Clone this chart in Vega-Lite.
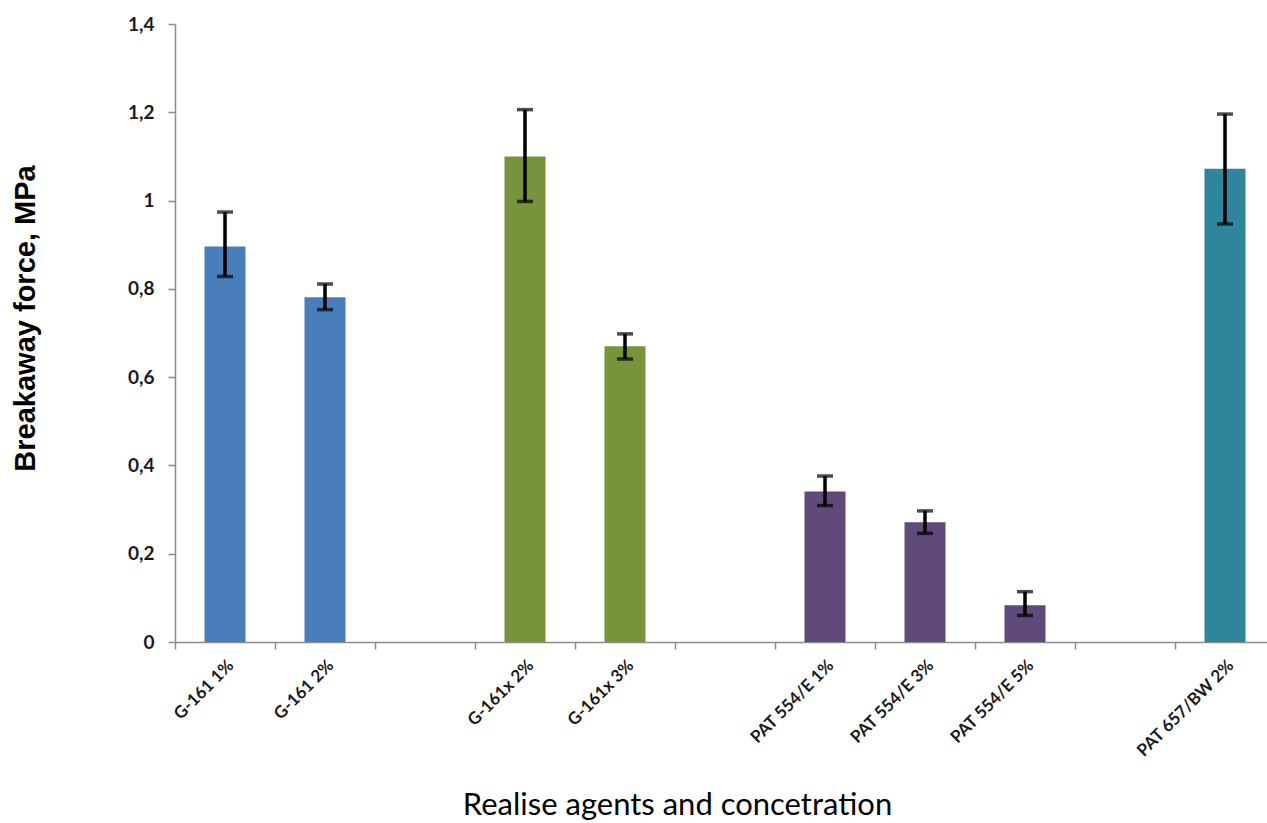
{
  "$schema": "https://vega.github.io/schema/vega-lite/v6.json",
  "width": 1092,
  "height": 618,
  "autosize": {"type": "none"},
  "padding": {"left": 175, "top": 24, "right": 0, "bottom": 181},
  "background": "white",
  "config": {
    "view": {"stroke": null},
    "axis": {"grid": false, "domainColor": "#8c8c8c", "domainWidth": 1.5, "tickColor": "#8c8c8c", "tickWidth": 1.5, "tickSize": 7, "labelColor": "#1a1a1a", "titleColor": "#000000"},
    "axisY": {
      "labelFont": "Lato", "labelFontWeight": "bold", "labelFontSize": 19, "labelPadding": 14,
      "titleFont": "Liberation Sans", "titleFontWeight": "bold", "titleFontSize": 29,
      "titleAngle": 270, "titleX": -150, "titleY": 294, "titleAlign": "center", "titleBaseline": "middle"
    },
    "axisX": {
      "labelAngle": -45, "tickBand": "extent",
      "labelFont": "Lato", "labelFontWeight": "bold", "labelFontSize": 17, "labelPadding": 8,
      "titleFont": "Lato", "titleFontWeight": "normal", "titleFontSize": 31,
      "titleX": 502, "titleY": 163, "titleAlign": "center", "titleBaseline": "middle"
    }
  },
  "data": {
    "values": [
      {"label": "G-161 1%", "group": "G-161", "value": 0.896, "lo": 0.828, "hi": 0.974},
      {"label": "G-161 2%", "group": "G-161", "value": 0.781, "lo": 0.753, "hi": 0.811},
      {"label": "G-161x 2%", "group": "G-161x", "value": 1.100, "lo": 0.998, "hi": 1.206},
      {"label": "G-161x 3%", "group": "G-161x", "value": 0.670, "lo": 0.641, "hi": 0.698},
      {"label": "PAT 554/E 1%", "group": "PAT 554/E", "value": 0.341, "lo": 0.309, "hi": 0.376},
      {"label": "PAT 554/E 3%", "group": "PAT 554/E", "value": 0.271, "lo": 0.246, "hi": 0.297},
      {"label": "PAT 554/E 5%", "group": "PAT 554/E", "value": 0.083, "lo": 0.060, "hi": 0.114},
      {"label": "PAT 657/BW 2%", "group": "PAT 657/BW", "value": 1.072, "lo": 0.947, "hi": 1.196}
    ]
  },
  "encoding": {
    "x": {
      "field": "label", "type": "nominal", "title": "Realise agents and concetration",
      "scale": {
        "domain": ["G-161 1%", "G-161 2%", " ", "G-161x 2%", "G-161x 3%", "  ", "PAT 554/E 1%", "PAT 554/E 3%", "PAT 554/E 5%", "   ", "PAT 657/BW 2%"],
        "range": [0, 1100], "paddingInner": 0, "paddingOuter": 0
      }
    }
  },
  "layer": [
    {
      "mark": {"type": "bar", "width": {"band": 0.41}},
      "encoding": {
        "y": {
          "field": "value", "type": "quantitative", "title": "Breakaway force, MPa", "scale": {"domain": [0, 1.4]},
          "axis": {"values": [0, 0.2, 0.4, 0.6, 0.8, 1, 1.2, 1.4], "labelExpr": "replace(toString(round(datum.value*10)/10), '.', ',')"}
        },
        "color": {
          "field": "group", "type": "nominal", "legend": null,
          "scale": {"domain": ["G-161", "G-161x", "PAT 554/E", "PAT 657/BW"], "range": ["#4a7ebb", "#77933c", "#604a7b", "#2e859c"]}
        }
      }
    },
    {
      "mark": {"type": "rule", "color": "black", "strokeWidth": 3.5},
      "encoding": {
        "y": {"field": "lo", "type": "quantitative", "title": "Breakaway force, MPa"},
        "y2": {"field": "hi"}
      }
    },
    {
      "mark": {"type": "tick", "color": "black", "thickness": 3.5, "size": 16},
      "encoding": {"y": {"field": "lo", "type": "quantitative", "title": "Breakaway force, MPa"}}
    },
    {
      "mark": {"type": "tick", "color": "black", "thickness": 3.5, "size": 16},
      "encoding": {"y": {"field": "hi", "type": "quantitative", "title": "Breakaway force, MPa"}}
    }
  ]
}
